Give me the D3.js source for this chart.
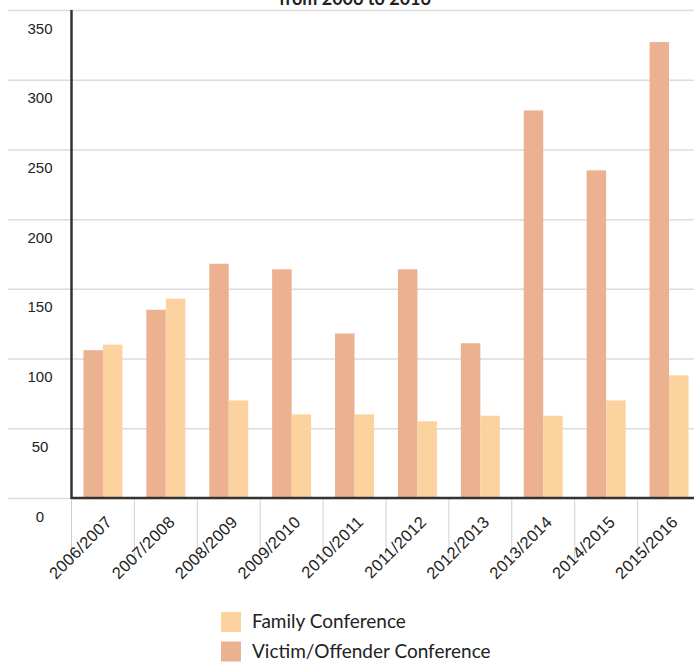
<!DOCTYPE html>
<html>
<head>
<meta charset="utf-8">
<script src="https://cdn.jsdelivr.net/npm/d3@7"></script>
<style>
    body { margin: 0; background: #fff; }
    svg { display: block; font-family: Lato, "Noto Sans", sans-serif; }
</style>
</head>
<body>
<div id="chart"></div>
<script>
// data
var years = ["2006/2007", "2007/2008", "2008/2009", "2009/2010", "2010/2011",
    "2011/2012", "2012/2013", "2013/2014", "2014/2015", "2015/2016"];
var victimOffender = [106, 135, 168, 164, 118, 164, 111, 278, 235, 327];
var family = [110, 143, 70, 60, 60, 55, 59, 59, 70, 88];
var yTicks = [0, 50, 100, 150, 200, 250, 300, 350];
var seriesNames = ["Family Conference", "Victim/Offender Conference"];
var seriesKeys = ["family", "victim"];
var colors = { family: "#fcd39e", victim: "#ecb191" };

var svgWidth = 694;
var svgHeight = 663;

var svg = d3.select("#chart")
    .append("svg")
    .attr("width", svgWidth)
    .attr("height", svgHeight);

var rows = years.map(function(y, i) {
    return { year: y, victim: victimOffender[i], family: family[i] };
});

var plotLeft = 71.5, plotRight = 700.5, plotTop = 10, plotBottom = 498;

var x0 = d3.scaleBand()
    .domain(years)
    .range([plotLeft, plotRight])
    .paddingInner(0.38)
    .paddingOuter(0.19);

var step = x0.step();

var x1 = d3.scaleBand()
    .domain(["victim", "family"])
    .range([0, x0.bandwidth()]);

var yScale = d3.scaleLinear()
    .domain([0, 350])
    .range([plotBottom, plotTop]);

// gridlines + y labels
var yAxis = svg.append("g")
    .attr("transform", "translate(8,0)")
    .call(d3.axisRight(yScale).tickValues(yTicks).tickSize(svgWidth - 8));

yAxis.select(".domain").remove();
yAxis.selectAll(".tick line")
    .attr("stroke", "#dcdcdc")
    .attr("stroke-width", 1.5);
yAxis.selectAll(".tick text")
    .attr("x", 32)
    .attr("dy", 23)
    .attr("text-anchor", "middle")
    .attr("fill", "#222")
    .style("font-size", "15px");

// x axis ticks (boundaries) + rotated labels
var xAxis = svg.append("g")
    .attr("transform", `translate(0, ${plotBottom})`)
    .call(d3.axisBottom(x0).tickSize(0));

xAxis.select(".domain").remove();
xAxis.selectAll(".tick line")
    .attr("x1", -step / 2)
    .attr("x2", -step / 2)
    .attr("y1", 0)
    .attr("y2", 66)
    .attr("stroke", "#d0d0d0")
    .attr("stroke-width", 1);
xAxis.selectAll(".tick text")
    .attr("y", 0)
    .attr("dy", 0)
    .attr("text-anchor", "end")
    .attr("transform", "translate(10,25) rotate(-45)")
    .attr("fill", "#222")
    .style("font-size", "16.5px")
    .style("letter-spacing", "0.3px");

// bars
var groups = svg.append("g")
    .selectAll("g")
    .data(rows)
    .enter().append("g")
    .attr("transform", d => `translate(${x0(d.year)},0)`);

groups.selectAll("rect")
    .data(d => ["victim", "family"].map(k => ({ key: k, value: d[k] })))
    .enter().append("rect")
    .attr("x", d => x1(d.key))
    .attr("width", x1.bandwidth())
    .attr("y", d => yScale(d.value))
    .attr("height", d => plotBottom - yScale(d.value))
    .attr("fill", d => colors[d.key]);

// axis lines
svg.append("line")
    .attr("x1", plotLeft).attr("x2", plotLeft)
    .attr("y1", plotTop).attr("y2", plotBottom + 1)
    .attr("stroke", "#333").attr("stroke-width", 2.5);

svg.append("line")
    .attr("x1", plotLeft).attr("x2", svgWidth)
    .attr("y1", plotBottom).attr("y2", plotBottom)
    .attr("stroke", "#333").attr("stroke-width", 2.5);

// title (only its last line is inside the picture)
svg.append("text")
    .attr("x", 355)
    .attr("y", 5)
    .attr("text-anchor", "middle")
    .attr("font-weight", "bold")
    .attr("fill", "#222")
    .style("font-size", "18px")
    .text("from 2006 to 2016");

// legend
var legend = svg.append("g")
    .attr("transform", "translate(221,612)");

var items = legend.selectAll("g")
    .data(seriesKeys)
    .enter().append("g")
    .attr("transform", (d, i) => `translate(0, ${i * 29.5})`);

items.append("rect")
    .attr("width", 20)
    .attr("height", 20)
    .attr("fill", d => colors[d]);

items.append("text")
    .attr("x", 31)
    .attr("y", 16)
    .attr("fill", "#222")
    .style("font-size", "19px")
    .text((d, i) => seriesNames[i]);
</script>
</body>
</html>
